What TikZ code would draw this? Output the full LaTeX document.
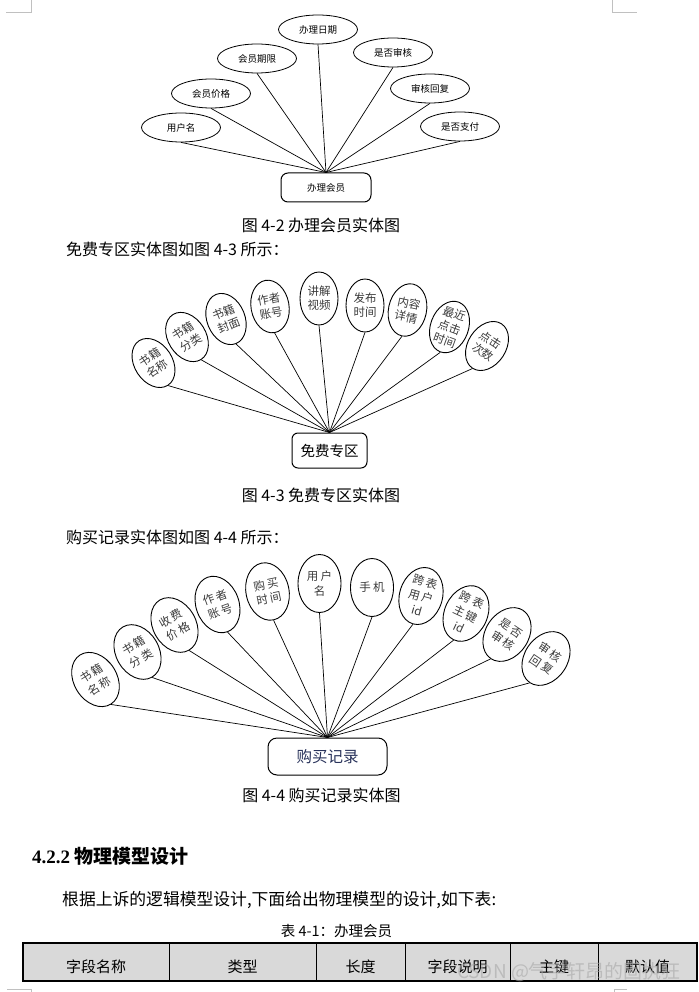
\documentclass[tikz,border=0pt]{standalone}
\usepackage{fontspec}
\setmainfont{Noto Sans CJK SC}
\newfontfamily\cjkls[LetterSpace=18]{Noto Sans CJK SC}
\newfontfamily\cjkplain{Noto Sans CJK SC}
\newfontfamily\serifnum{Liberation Serif}
\usetikzlibrary{shapes.geometric}
\definecolor{txtgray}{HTML}{3A3A3A}
\definecolor{headgray}{HTML}{D9D9D9}
\definecolor{markgray}{HTML}{C0C0C0}
\definecolor{navy}{HTML}{28325A}
\definecolor{wmgray}{HTML}{A8A8A8}
\tikzset{
  attrA/.style={ellipse, draw, line width=0.8pt, minimum width=79pt, minimum height=29pt, inner sep=0pt, font=\fontsize{9.5}{11}\selectfont},
  attrB/.style={ellipse, draw, line width=0.9pt, minimum width=38pt, minimum height=53pt, inner sep=-3pt, align=center, text=txtgray, font=\fontsize{11.5}{14}\selectfont},
  attrC/.style={ellipse, draw, line width=0.9pt, minimum width=43pt, minimum height=58pt, inner sep=-3pt, align=center, text=txtgray, font=\cjkls\fontsize{11.5}{15}\selectfont},
  entity/.style={draw, line width=1pt, inner sep=0pt},
  link/.style={line width=0.7pt},
  caption/.style={inner sep=0pt, font=\fontsize{16}{18}\selectfont},
  cornermark/.style={draw=markgray, line width=0.8pt},
  headtxt/.style={inner sep=0pt, font=\fontsize{15}{17}\selectfont}
}
\begin{document}
\begin{tikzpicture}[x=1pt, y=-1pt]
\useasboundingbox (0,0) rectangle (698,992);

% page corner marks
\draw[cornermark] (6,12.3) -- (31.7,12.3) -- (31.7,0);
\draw[cornermark] (612.3,0) -- (612.3,12.3) -- (637,12.3);
\draw[cornermark] (7,989.5) -- (31,989.5) -- (31,992);
\draw[cornermark] (614.6,992) -- (614.6,989.5) -- (627,989.5);

% ---------- Figure 4-2 ----------
\node[entity, rounded corners=7pt, minimum width=90pt, minimum height=29pt, font=\fontsize{9.5}{11}\selectfont] (e1) at (326,187.5) {办理会员};
\node[attrA] (a1) at (181,127.5) {用户名};
\node[attrA] (a2) at (211,93.5) {会员价格};
\node[attrA] (a3) at (257,58.5) {会员期限};
\node[attrA] (a4) at (318,29.5) {办理日期};
\node[attrA] (a5) at (393,52.5) {是否审核};
\node[attrA] (a6) at (430,88.5) {审核回复};
\node[attrA] (a7) at (460,126.5) {是否支付};
\foreach \n in {a1,a2,a3,a4,a5,a6,a7} \draw[link] (\n.south) -- (e1.north);

\node[caption] (c1) at (321,225.5) {图 4-2 办理会员实体图};
\node[caption, anchor=west] (p1) at (66,249.5) {免费专区实体图如图 4-3 所示：};

% ---------- Figure 4-3 ----------
\node[entity, rounded corners=6pt, minimum width=75pt, minimum height=35pt, font=\fontsize{14.5}{16}\selectfont] (e2) at (329.5,450.5) {免费专区};
\node[attrB, rotate=33] (b1) at (153.5,363) {书籍\\名称};
\node[attrB, rotate=32] (b2) at (187,337) {书籍\\分类};
\node[attrB, rotate=22] (b3) at (226,319) {书籍\\封面};
\node[attrB, rotate=10] (b4) at (270,306.5) {作者\\账号};
\node[attrB] (b5) at (319,298.5) {讲解\\视频};
\node[attrB] (b6) at (365,305.5) {发布\\时间};
\node[attrB, rotate=-12] (b7) at (407.5,310) {内容\\详情};
\node[attrB, rotate=-20] (b8) at (449.5,327) {最近\\点击\\时间};
\node[attrB, rotate=-33] (b9) at (487,346) {点击\\次数};
\foreach \n in {b1,b2,b3,b4,b5,b6,b7,b8,b9} \draw[link] (\n.south) -- (e2.north);

\node[caption] (c2) at (321,495) {图 4-3 免费专区实体图};
\node[caption, anchor=west] (p2) at (66,537.5) {购买记录实体图如图 4-4 所示：};

% ---------- Figure 4-4 ----------
\node[entity, rounded corners=9pt, minimum width=119pt, minimum height=37pt, text=navy, font=\fontsize{15.5}{17}\selectfont] (e3) at (327.5,756.5) {购买记录};
\node[attrC, rotate=32] (d1) at (95.5,679.5) {书籍\\名称};
\node[attrC, rotate=30] (d2) at (137.5,652) {书籍\\分类};
\node[attrC, rotate=30] (d3) at (174.5,625) {收费\\价格};
\node[attrC, rotate=20] (d4) at (217.5,604.5) {作者\\账号};
\node[attrC, rotate=12] (d5) at (267.5,591.5) {购买\\时间};
\node[attrC] (d6) at (319.5,583.5) {用户\\名};
\node[attrC] (d7) at (372,587.5) {手机};
\node[attrC, rotate=-16] (d8) at (421,596) {跨表\\用户\\{\cjkplain id}};
\node[attrC, rotate=-25] (d9) at (466,613.5) {跨表\\主键\\{\cjkplain id}};
\node[attrC, rotate=-34] (d10) at (507,634.5) {是否\\审核};
\node[attrC, rotate=-34] (d11) at (546,658.5) {审核\\回复};
\foreach \n in {d1,d2,d3,d4,d5,d6,d7,d8,d9,d10,d11} \draw[link] (\n.south) -- (e3.north);

\node[caption] (c3) at (321.5,795.5) {图 4-4 购买记录实体图};

% ---------- Section text ----------
\node[inner sep=0pt, anchor=west, font=\fontsize{19}{21}\selectfont] (h1) at (32,856) {{\serifnum\bfseries 4.2.2} \textbf{物理模型设计}};
\node[inner sep=0pt, anchor=west, font=\fontsize{16.8}{19}\selectfont] (p3) at (62,900) {根据上诉的逻辑模型设计,下面给出物理模型的设计,如下表:};
\node[inner sep=0pt, font=\fontsize{14.5}{16}\selectfont] (c4) at (336.5,931) {表 4-1：办理会员};

% ---------- Table header ----------
\fill[headgray] (23,943) rectangle (697,981);
\foreach \x in {169.5,316,405,510,598} \draw[line width=0.8pt] (\x,943) -- (\x,981);
\draw[line width=1.6pt] (23,943) rectangle (697,981);
\node[headtxt] (t1) at (96.2,967) {字段名称};
\node[headtxt] (t2) at (242.7,967) {类型};
\node[headtxt] (t3) at (360.5,967) {长度};
\node[headtxt] (t4) at (457.5,967) {字段说明};
\node[headtxt] (t5) at (554,967) {主键};
\node[headtxt] (t6) at (647.5,967) {默认值};

% watermark
\node[inner sep=0pt, text=wmgray, opacity=0.6, font=\fontsize{19}{21}\selectfont] (wm) at (569,972) {CSDN @气宇轩昂的固执狂};
\end{tikzpicture}
\end{document}
